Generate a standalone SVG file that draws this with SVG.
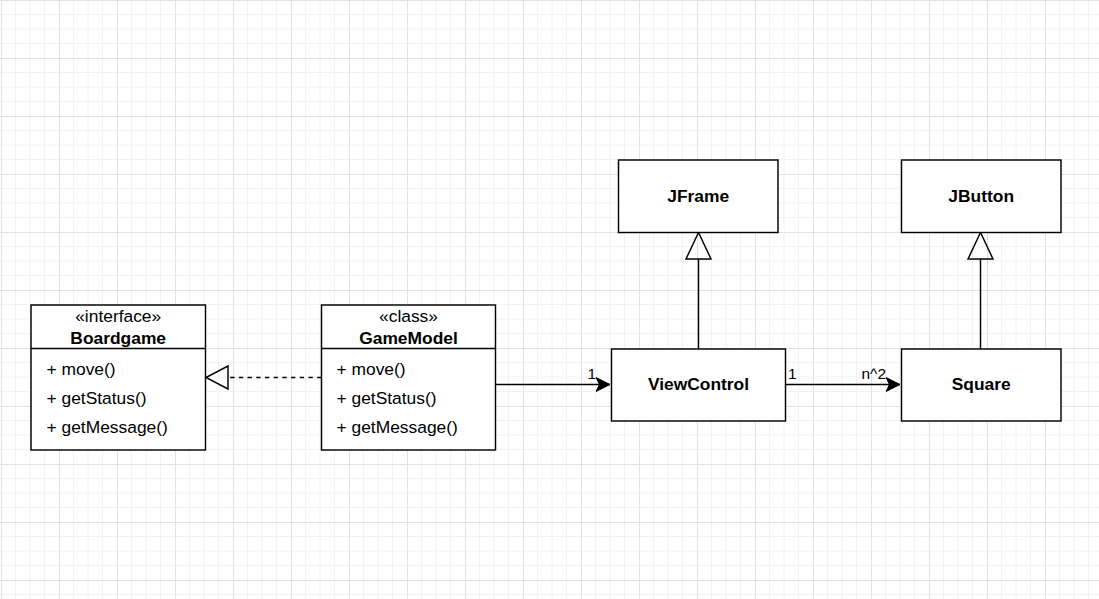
<svg xmlns="http://www.w3.org/2000/svg" width="1099" height="599" viewBox="0 0 1099 599">
<style>
.box{fill:#fff;stroke:#000;stroke-width:1.45}
.ln{fill:none;stroke:#000;stroke-width:1.45}
.t{font-family:"Liberation Sans",Arial,sans-serif;font-size:17.4px;fill:#000}
.b{font-weight:bold}
.c{text-anchor:middle}
.lbl{font-family:"Liberation Sans",Arial,sans-serif;font-size:15.5px;fill:#000}
</style>
<defs>
<pattern id="grid" x="1" y="0" width="58" height="58" patternUnits="userSpaceOnUse">
<path d="M14.5 0V58M29 0V58M43.5 0V58M0 14.5H58M0 29H58M0 43.5H58" stroke="#f2f2f2" stroke-width="1" fill="none"/>
<path d="M0.5 0V58M0 0.5H58" stroke="#e2e2e2" stroke-width="1" fill="none"/>
</pattern>
<marker id="arr" markerUnits="userSpaceOnUse" markerWidth="16" markerHeight="16" viewBox="0 0 16 16" refX="14" refY="8" orient="auto">
<path d="M14 8L0 1L3.5 8L0 15Z" fill="#000" stroke="#000" stroke-width="1"/>
</marker>
</defs>
<rect width="1099" height="599" fill="#fff"/>
<rect width="1099" height="599" fill="url(#grid)"/>

<g id="connectors">
<line class="ln" x1="321.5" y1="377.5" x2="228" y2="377.5" stroke-dasharray="4.35 4.35"/>
<path class="ln" d="M206 377.5L228 366L228 389Z" fill="#fff"/>
<line class="ln" x1="495.5" y1="384.5" x2="610" y2="384.5" marker-end="url(#arr)"/>
<text class="lbl" x="587.5" y="378.5">1</text>
<line class="ln" x1="785.5" y1="384.5" x2="900" y2="384.5" marker-end="url(#arr)"/>
<text class="lbl" x="788" y="378.5">1</text>
<text class="lbl" x="861.5" y="378.5">n^2</text>
<line class="ln" x1="698.5" y1="349" x2="698.5" y2="259"/>
<path class="ln" d="M698.5 232.5L686 259L711 259Z" fill="#fff"/>
<line class="ln" x1="980.5" y1="349" x2="980.5" y2="259"/>
<path class="ln" d="M980.5 232.5L968 259L993 259Z" fill="#fff"/>
</g>

<g id="boardgame">
<rect class="box" x="31" y="305" width="174.5" height="145"/>
<line class="ln" x1="31" y1="348.5" x2="205.5" y2="348.5"/>
<text class="t c" x="118.2" y="321.5">«interface»</text>
<text class="t b c" x="118.2" y="344">Boardgame</text>
<text class="t" x="46.5" y="374.5">+ move()</text>
<text class="t" x="46.5" y="403.5">+ getStatus()</text>
<text class="t" x="46.5" y="432.5">+ getMessage()</text>
</g>

<g id="gamemodel">
<rect class="box" x="321.5" y="305" width="174" height="145"/>
<line class="ln" x1="321.5" y1="348.5" x2="495.5" y2="348.5"/>
<text class="t c" x="408.5" y="321.5">«class»</text>
<text class="t b c" x="408.5" y="344">GameModel</text>
<text class="t" x="336.5" y="374.5">+ move()</text>
<text class="t" x="336.5" y="403.5">+ getStatus()</text>
<text class="t" x="336.5" y="432.5">+ getMessage()</text>
</g>

<g id="viewcontrol">
<rect class="box" x="611.5" y="349" width="174" height="72"/>
<text class="t b c" x="698.5" y="390">ViewControl</text>
</g>

<g id="jframe">
<rect class="box" x="618.5" y="160" width="159.5" height="72.5"/>
<text class="t b c" x="698.2" y="202.3">JFrame</text>
</g>

<g id="jbutton">
<rect class="box" x="901.5" y="160" width="159.5" height="72.5"/>
<text class="t b c" x="981.2" y="202.3">JButton</text>
</g>

<g id="square">
<rect class="box" x="901.5" y="349" width="159.5" height="72"/>
<text class="t b c" x="981.2" y="390">Square</text>
</g>
</svg>
